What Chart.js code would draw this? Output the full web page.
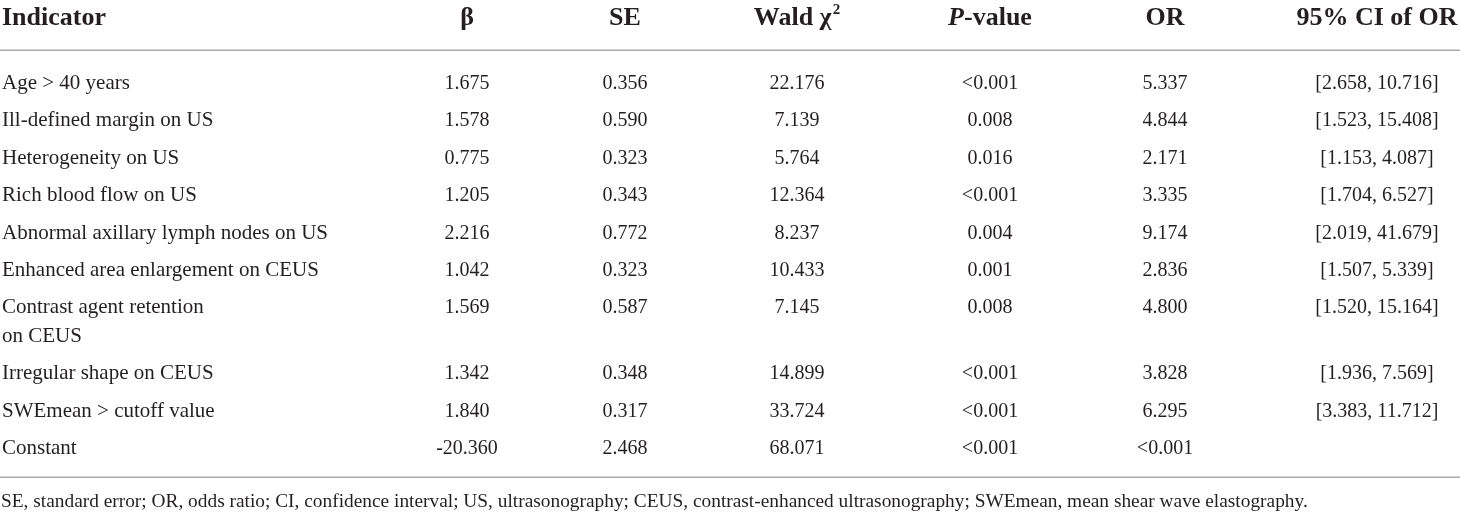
<!DOCTYPE html>
<html>
<head>
<meta charset="utf-8">
<script src="https://cdn.jsdelivr.net/npm/chart.js@4.4.0/dist/chart.umd.min.js"></script>
<style>
  html, body { margin: 0; padding: 0; background: #ffffff; }
  #wrap { width: 1460px; height: 515px; }
</style>
</head>
<body>
<div id="wrap"><canvas id="c" width="1460" height="515"></canvas></div>
<script>
// ---- DATA ----
const headers = ["Indicator", "β", "SE", "Wald χ2", "P-value", "OR", "95% CI of OR"];
const indicators = [
  "Age > 40 years",
  "Ill-defined margin on US",
  "Heterogeneity on US",
  "Rich blood flow on US",
  "Abnormal axillary lymph nodes on US",
  "Enhanced area enlargement on CEUS",
  "Contrast agent retention\non CEUS",
  "Irregular shape on CEUS",
  "SWEmean > cutoff value",
  "Constant"
];
const beta = [1.675, 1.578, 0.775, 1.205, 2.216, 1.042, 1.569, 1.342, 1.840, -20.360];
const se = [0.356, 0.590, 0.323, 0.343, 0.772, 0.323, 0.587, 0.348, 0.317, 2.468];
const wald = [22.176, 7.139, 5.764, 12.364, 8.237, 10.433, 7.145, 14.899, 33.724, 68.071];
const pValue = ["<0.001", "0.008", "0.016", "<0.001", "0.004", "0.001", "0.008", "<0.001", "<0.001", "<0.001"];
const oddsRatio = ["5.337", "4.844", "2.171", "3.335", "9.174", "2.836", "4.800", "3.828", "6.295", "<0.001"];
const ciLower = [2.658, 1.523, 1.153, 1.704, 2.019, 1.507, 1.520, 1.936, 3.383, null];
const ciUpper = [10.716, 15.408, 4.087, 6.527, 41.679, 5.339, 15.164, 7.569, 11.712, null];
const footnote = "SE, standard error; OR, odds ratio; CI, confidence interval; US, ultrasonography; CEUS, contrast-enhanced ultrasonography; SWEmean, mean shear wave elastography.";

// ---- LAYOUT (positions in scale units) ----
const colX = [2, 467, 625, 797, 990, 1165, 1377];
const colAlign = ["left", "center", "center", "center", "center", "center", "center"];
const headerY = 25, headerRuleY = 50, firstRowY = 89, rowPitch = 37.4, wrapExtra = 28.6;
const bottomRuleY = 477, footY = 507, footWidth = 1307;
const ink = "#231f20", ruleColor = "#a9a9a9";
const serif = "'Liberation Serif', 'Times New Roman', serif";

function rowY(i) {
  let y = firstRowY + i * rowPitch;
  for (let k = 0; k < i; k++) {
    const n = indicators[k].split("\n").length;
    y += (n - 1) * wrapExtra;
  }
  return y;
}
const f3 = v => (v === null ? "" : v.toFixed(3));
const columnsText = [
  indicators,
  beta.map(f3),
  se.map(f3),
  wald.map(f3),
  pValue,
  oddsRatio,
  ciLower.map((lo, i) => lo === null ? "" : "[" + f3(lo) + ", " + f3(ciUpper[i]) + "]")
];

const datasets = columnsText.map((texts, c) => ({
  label: headers[c],
  texts: texts,
  data: texts.map((t, r) => ({ x: colX[c], y: rowY(r) })),
  pointRadius: 0,
  pointHoverRadius: 0
}));
datasets.push({
  label: "header",
  isHeader: true,
  texts: headers,
  data: headers.map((h, c) => ({ x: colX[c], y: headerY })),
  pointRadius: 0,
  pointHoverRadius: 0
});

const tablePlugin = {
  id: "tableText",
  afterDatasetsDraw(chart) {
    const ctx = chart.ctx;
    const xs = chart.scales.x, ys = chart.scales.y;
    ctx.save();
    // rules
    ctx.strokeStyle = ruleColor;
    ctx.lineWidth = 1.5;
    [headerRuleY, bottomRuleY].forEach(v => {
      const py = Math.round(ys.getPixelForValue(v)) + 0.25;
      ctx.beginPath();
      ctx.moveTo(xs.getPixelForValue(0), py);
      ctx.lineTo(xs.getPixelForValue(1460), py);
      ctx.stroke();
    });
    ctx.fillStyle = ink;
    ctx.textBaseline = "alphabetic";
    chart.data.datasets.forEach((ds, di) => {
      const meta = chart.getDatasetMeta(di);
      meta.data.forEach((el, i) => {
        const text = ds.texts[i];
        if (!text) return;
        const align = ds.isHeader ? colAlign[i] : colAlign[di];
        if (ds.isHeader) {
          drawHeader(ctx, text, el.x, el.y, align);
        } else {
          ctx.font = (di === 0 ? "21px " : "20px ") + serif;
          ctx.textAlign = align;
          const lines = text.split("\n");
          lines.forEach((ln, li) => {
            const y = ys.getPixelForValue(ds.data[i].y + li * wrapExtra);
            ctx.fillText(ln, el.x, y);
          });
        }
      });
    });
    // footnote
    ctx.font = "20px " + serif;
    const w20 = ctx.measureText(footnote).width;
    const fs = 20 * footWidth / w20;
    ctx.font = fs.toFixed(2) + "px " + serif;
    ctx.textAlign = "left";
    ctx.fillText(footnote, xs.getPixelForValue(1), ys.getPixelForValue(footY));
    ctx.restore();
  }
};

function drawHeader(ctx, text, x, y, align) {
  const bold = "bold 26px " + serif;
  ctx.textAlign = "left";
  if (text === "Wald χ2") {
    ctx.font = bold;
    const main = "Wald χ";
    const w1 = ctx.measureText(main).width;
    ctx.font = "bold 15px " + serif;
    const w2 = ctx.measureText("2").width + 1;
    const start = x - (w1 + w2) / 2;
    ctx.font = bold;
    ctx.fillText(main, start, y);
    ctx.font = "bold 15px " + serif;
    ctx.fillText("2", start + w1 + 1, y - 11);
    return;
  }
  if (text === "P-value") {
    ctx.font = "italic bold 26px " + serif;
    const w1 = ctx.measureText("P").width;
    ctx.font = bold;
    const w2 = ctx.measureText("-value").width;
    const start = x - (w1 + w2) / 2;
    ctx.font = "italic bold 26px " + serif;
    ctx.fillText("P", start, y);
    ctx.font = bold;
    ctx.fillText("-value", start + w1, y);
    return;
  }
  ctx.font = bold;
  ctx.textAlign = align;
  ctx.fillText(text, x, y);
}

new Chart(document.getElementById("c"), {
  type: "scatter",
  data: { datasets: datasets },
  options: {
    responsive: false,
    animation: false,
    events: [],
    layout: { padding: 0 },
    plugins: { legend: { display: false }, tooltip: { enabled: false } },
    scales: {
      x: { type: "linear", min: 0, max: 1460, display: false },
      y: { type: "linear", min: 0, max: 515, reverse: true, display: false }
    }
  },
  plugins: [tablePlugin]
});
</script>
</body>
</html>
